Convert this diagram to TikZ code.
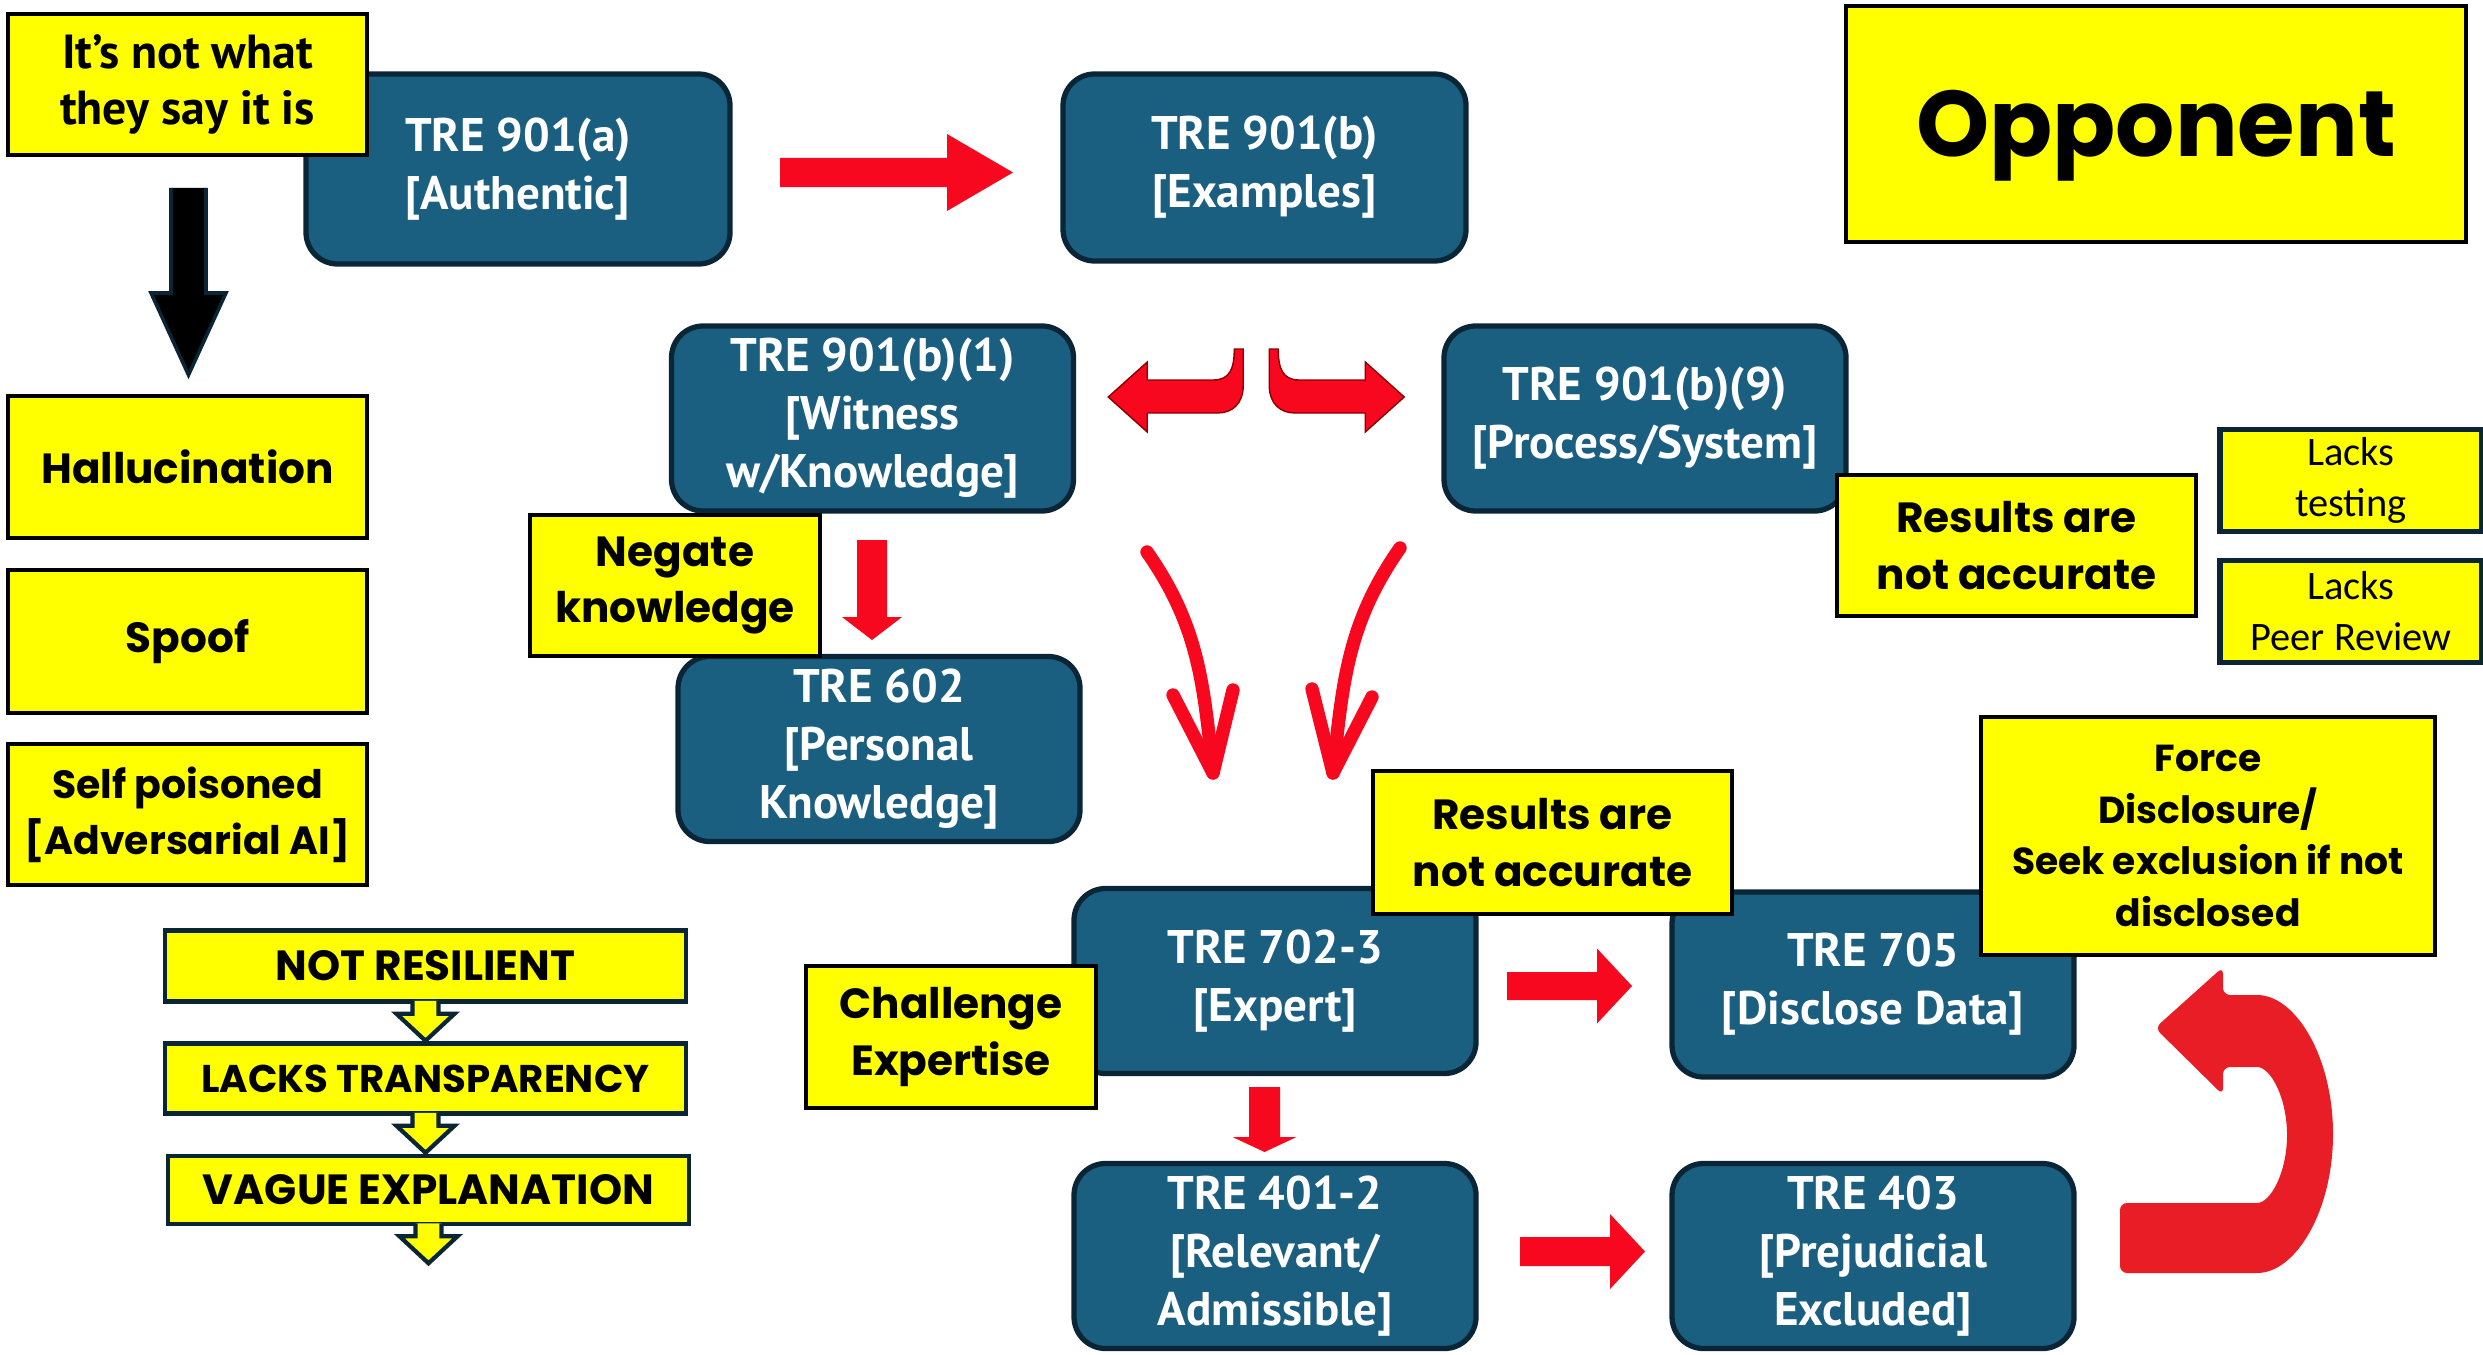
\documentclass[tikz,border=0pt]{standalone}
\usepackage{fontspec}
\usepackage{tikz}
\setmainfont{Carlito}
\newfontfamily\narrowbold{PT Sans}
\newfontfamily\heavyfont{Poppins}
\usetikzlibrary{positioning, calc, arrows.meta}

\definecolor{trefill}{RGB}{26,94,128}
\definecolor{treline}{RGB}{10,38,54}
\definecolor{arrowred}{RGB}{247,8,30}
\definecolor{turnred}{RGB}{233,29,37}
\definecolor{noteyellow}{RGB}{255,255,0}

% block arrow: style, start, angle, shaft length, head length, shaft half width, head half width
\newcommand{\blockarrow}[7]{%
  \begin{scope}[shift={(#2)}, rotate=#3]
    \fill[#1, draw=none] (0,#6) -- (#4,#6) -- (#4,#7) -- ({#4+#5},0) -- (#4,-#7) -- (#4,-#6) -- (0,-#6) -- cycle;
    \draw[#1, fill=none] (0,#6) -- (#4,#6) -- (#4,#7) -- ({#4+#5},0) -- (#4,-#7) -- (#4,-#6) -- (0,-#6);
  \end{scope}}

\begin{document}
\begin{tikzpicture}[
    tre/.style={rectangle, rounded corners=9pt, draw=treline, fill=trefill, line width=1.5pt,
        text=white, align=center, inner sep=2pt,
        minimum width=4.02cm, minimum height=1.85cm,
        font=\narrowbold\bfseries\fontsize{13.4}{16.5}\selectfont},
    note/.style={rectangle, draw=black, fill=noteyellow, line width=1.3pt, align=center, inner sep=2pt,
        minimum width=3.59cm, minimum height=1.42cm,
        font=\heavyfont\bfseries\fontsize{12}{16}\selectfont},
    lacksbox/.style={note, draw=treline, line width=1.6pt, minimum width=2.62cm, minimum height=1.02cm,
        font=\fontsize{11.5}{14.5}\selectfont},
    chainbox/.style={note, draw=treline, minimum width=5.21cm, minimum height=0.71cm},
    redblock/.style={fill=arrowred, draw=none},
    blackblock/.style={fill=black, draw=treline, line width=1pt},
    chevron/.style={fill=noteyellow, draw=treline, line width=1.2pt},
    hand/.style={draw=arrowred, line width=3.8pt, line cap=round, line join=round},
    pics/bentarrow/.style={code={
        \filldraw[fill=arrowred, draw=red!55!black, line width=0.4pt]
          (-1.48,-3.97) -- (-1.09,-3.62) -- (-1.09,-3.80) -- (-0.43,-3.80)
          .. controls (-0.26,-3.80) and (-0.22,-3.68) .. (-0.22,-3.49) -- (-0.13,-3.49)
          -- (-0.13,-3.85) .. controls (-0.13,-4.04) and (-0.24,-4.13) .. (-0.39,-4.13)
          -- (-1.09,-4.13) -- (-1.09,-4.32) -- cycle;}}
]
    \useasboundingbox (0,0) rectangle (24.83,-13.54);

    % ================= TRE boxes =================
    \node[tre, minimum width=4.24cm, minimum height=1.90cm] (t901a) at (5.18,-1.69) {TRE 901(a)\\{[Authentic]}};
    \node[tre, minimum width=4.03cm, minimum height=1.87cm] (t901b) at (12.645,-1.675) {TRE 901(b)\\{[Examples]}};
    \node[tre] (t901b1) at (8.725,-4.185) {TRE 901(b)(1)\\{[Witness}\\w/Knowledge]};
    \node[tre] (t901b9) at (16.45,-4.185) {TRE 901(b)(9)\\{[Process/System]}};
    \node[tre] (t602) at (8.79,-7.49) {TRE 602\\{[Personal}\\Knowledge]};
    \node[tre] (t7023) at (12.75,-9.81) {TRE 702-3\\{[Expert]}};
    \node[tre] (t705) at (18.73,-9.845) {TRE 705\\{[Disclose Data]}};
    \node[tre] (t4012) at (12.75,-12.56) {TRE 401-2\\{[Relevant/}\\Admissible]};
    \node[tre] (t403) at (18.73,-12.56) {TRE 403\\{[Prejudicial}\\Excluded]};

    % ================= Arrows =================
    \coordinate (authout) at (7.80,-1.725);
    \coordinate (knowout) at (8.72,-5.40);
    \coordinate (expout) at (15.07,-9.86);
    \coordinate (expdown) at (12.645,-10.87);
    \coordinate (relout) at (15.20,-12.515);
    \blockarrow{redblock}{authout}{0}{1.67}{0.66}{0.145}{0.385}
    \blockarrow{redblock}{knowout}{-90}{0.77}{0.23}{0.15}{0.30}
    \blockarrow{redblock}{expout}{0}{0.90}{0.35}{0.14}{0.375}
    \blockarrow{redblock}{expdown}{-90}{0.50}{0.15}{0.155}{0.32}
    \blockarrow{redblock}{relout}{0}{0.90}{0.35}{0.145}{0.375}

    % split arrows under 901(b)
    \coordinate (bendaxis) at (12.5625,0);
    \pic (bentL) at (bendaxis) {bentarrow};
    \pic[xscale=-1] (bentR) at (bendaxis) {bentarrow};

    % hand drawn arrows down to 702-3
    \coordinate (handLs) at (11.47,-5.52);
    \coordinate (handLt) at (12.13,-7.73);
    \coordinate (handRs) at (14.00,-5.48);
    \coordinate (handRt) at (13.33,-7.73);
    \draw[hand] (handLs) to[out=-55, in=96] (handLt);
    \draw[hand] ($(handLt)+(-0.40,0.78)$) -- (handLt) -- ++(0.20,0.83);
    \draw[hand] (handRs) to[out=-125, in=84] (handRt);
    \draw[hand] ($(handRt)+(-0.21,0.84)$) -- (handRt) -- ++(0.39,0.76);

    % U-turn back from 403
    \coordinate (turnc) at (22.50,-11.34);
    \begin{scope}[shift={(turnc)}]
        \fill[turnred, rounded corners=2pt] (-0.27,1.39) -- (0,1.39)
            arc[start angle=90, end angle=-90, x radius=0.83, y radius=1.39]
            -- (-1.30,-1.39) -- (-1.30,-0.69) -- (0,-0.69)
            arc[start angle=-90, end angle=90, x radius=0.37, y radius=0.68]
            -- (-0.27,0.67) -- (-0.27,0.39) -- (-0.95,1.06) -- (-0.27,1.67) -- cycle;
    \end{scope}

    % ================= Yellow notes =================
    \node[note, minimum height=1.41cm, font=\narrowbold\bfseries\fontsize{13.6}{16}\selectfont] (claim) at (1.875,-0.845) {It’s not what\\they say it is};
    \node[note, minimum width=6.20cm, minimum height=2.36cm, text height=0.65cm, text depth=0pt,
        font=\heavyfont\bfseries\fontsize{26.5}{30}\selectfont] (opponent) at (21.56,-1.24) {Opponent};
    \node[note] (halluc) at (1.875,-4.67) {Hallucination};
    \node[note, minimum height=1.43cm] (spoof) at (1.875,-6.415) {Spoof};
    \node[note, minimum height=1.41cm, font=\heavyfont\bfseries\fontsize{11.2}{16}\selectfont] (selfpois) at (1.875,-8.145) {Self poisoned\\{[Adversarial AI]}};
    \node[note, minimum height=1.41cm] (resA) at (20.165,-5.455) {Results are\\not accurate};
    \node[lacksbox] (lackstest) at (23.51,-4.805) {Lacks\\testing};
    \node[lacksbox] (lackspeer) at (23.51,-6.115) {Lacks\\Peer Review};
    \node[note, minimum width=2.90cm, minimum height=1.41cm] (negate) at (6.75,-5.855) {Negate\\knowledge};
    \node[note, minimum height=1.43cm] (resB) at (15.525,-8.425) {Results are\\not accurate};
    \node[note, minimum width=4.54cm, minimum height=2.38cm, font=\heavyfont\bfseries\fontsize{10.7}{14.7}\selectfont] (force) at (22.08,-8.36) {Force\\Disclosure/\\Seek exclusion if not\\disclosed};
    \node[note, minimum width=2.90cm] (challenge) at (9.51,-10.37) {Challenge\\Expertise};

    % black arrow from the claim
    \coordinate (claimout) at (1.885,-1.88);
    \blockarrow{blackblock}{claimout}{-90}{1.05}{0.82}{0.175}{0.375}

    % ================= Chain of weaknesses =================
    \node[chainbox] (notres) at (4.255,-9.66) {NOT RESILIENT};
    \node[chainbox, minimum height=0.70cm, font=\heavyfont\bfseries\fontsize{11}{14}\selectfont] (lackstr) at (4.255,-10.785) {LACKS TRANSPARENCY};
    \node[chainbox, minimum height=0.68cm] (vague) at (4.285,-11.90) {VAGUE EXPLANATION};
    \coordinate (notresout) at ($(notres.south)+(0,0.03)$);
    \coordinate (lackstrout) at ($(lackstr.south)+(0,0.03)$);
    \coordinate (vagueout) at ($(vague.south)+(0,0.03)$);
    \blockarrow{chevron}{notresout}{-90}{0.13}{0.27}{0.13}{0.29}
    \blockarrow{chevron}{lackstrout}{-90}{0.13}{0.27}{0.13}{0.29}
    \blockarrow{chevron}{vagueout}{-90}{0.13}{0.27}{0.13}{0.29}

\end{tikzpicture}
\end{document}
